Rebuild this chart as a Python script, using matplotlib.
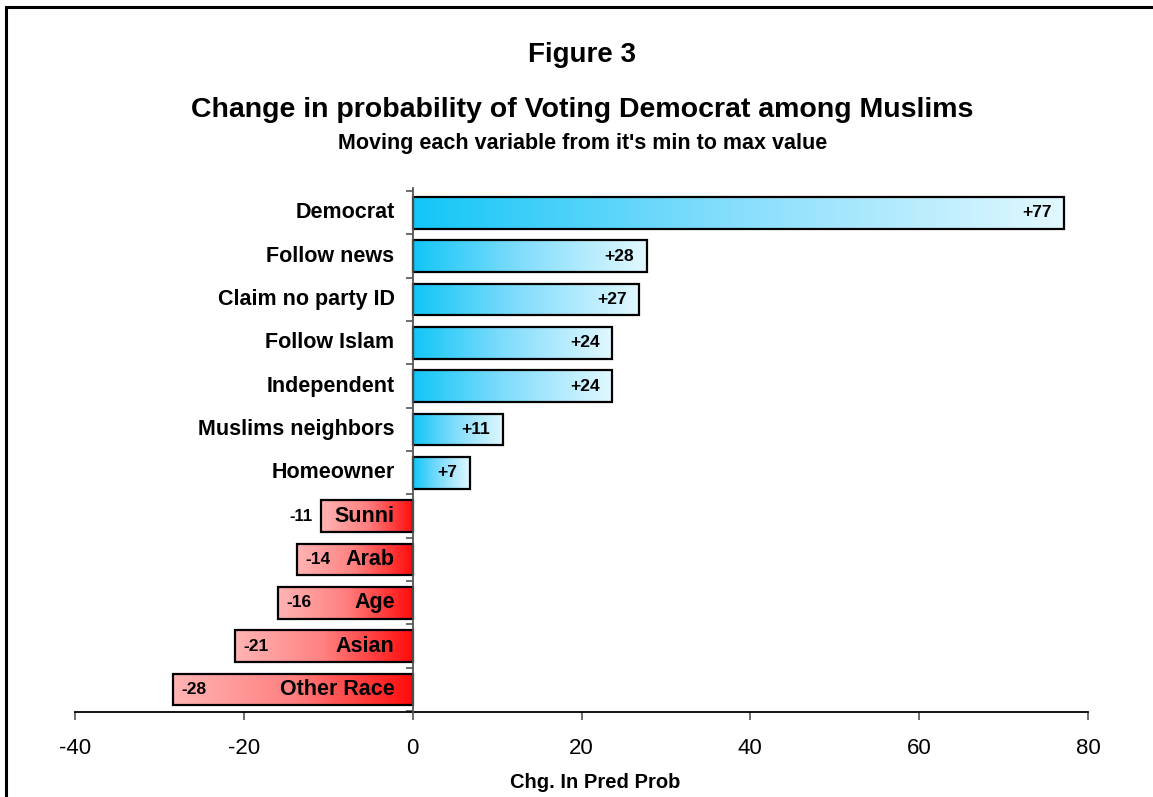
#Horizontal bar chart of change in predicted probability

import matplotlib.pyplot as plt
import numpy as np
from matplotlib.colors import LinearSegmentedColormap
from matplotlib.patches import Rectangle

plt.rcParams['font.family'] = ['Liberation Sans', 'DejaVu Sans']

#data, top to bottom
categories = ['Democrat', 'Follow news', 'Claim no party ID', 'Follow Islam',
              'Independent', 'Muslims neighbors', 'Homeowner', 'Sunni', 'Arab',
              'Age', 'Asian', 'Other Race']
values = [77.2, 27.7, 26.8, 23.6, 23.6, 10.7, 6.8, -10.9, -13.7, -15.9, -21.0, -28.4]
value_labels = ['+77', '+28', '+27', '+24', '+24', '+11', '+7',
                '-11', '-14', '-16', '-21', '-28']
xticks = [-40, -20, 0, 20, 40, 60, 80]

#gradient colormaps
blue_cmap = LinearSegmentedColormap.from_list(
    'blue', [(0.0, '#12c6f7'), (0.45, '#7fdcfc'), (1.0, '#e2f8ff')])
red_cmap = LinearSegmentedColormap.from_list(
    'red', [(0.0, '#ffb4b4'), (0.5, '#ff8080'), (1.0, '#ff0c0c')])
grad = np.linspace(0, 1, 256).reshape(1, -1)

fig = plt.figure(figsize=(11.53, 7.97), dpi=100)
ax = fig.add_axes([75/1153, 1-712/797, (1088-75)/1153, (712-188)/797])

n = len(categories)
ypos = np.arange(n)[::-1]  #Democrat at top
h = 0.73
for y, v, lab, vlab in zip(ypos, values, categories, value_labels):
    x0, x1 = min(0, v), max(0, v)
    cmap = blue_cmap if v > 0 else red_cmap
    ax.imshow(grad, cmap=cmap, aspect='auto', interpolation='bilinear',
              extent=(x0, x1, y-h/2, y+h/2), zorder=2)
    ax.add_patch(Rectangle((x0, y-h/2), x1-x0, h, fill=False,
                           edgecolor='black', linewidth=1.6, zorder=3))
    #category label, right aligned just left of the zero line
    ax.annotate(lab, (0, y), xytext=(-13, 0), textcoords='offset points',
                ha='right', va='center', fontsize=15.5, fontweight='bold',
                zorder=4)
    #value label
    if v > 0:
        ax.annotate(vlab, (v, y), xytext=(-9, 0), textcoords='offset points',
                    ha='right', va='center', fontsize=12.5, fontweight='bold',
                    zorder=4)
    elif abs(v) < 12:
        ax.annotate(vlab, (v, y), xytext=(-6, 0), textcoords='offset points',
                    ha='right', va='center', fontsize=12, fontweight='bold',
                    zorder=4)
    else:
        ax.annotate(vlab, (v, y), xytext=(6, 0), textcoords='offset points',
                    ha='left', va='center', fontsize=12.5, fontweight='bold',
                    zorder=4)

ax.set_xlim(-40, 80)
ax.set_ylim(-0.52, n-0.43)
ax.set_xticks(xticks)
ax.set_xticklabels([str(t) for t in xticks], fontsize=16)
ax.set_yticks(np.arange(n+1)-0.5)
ax.set_yticklabels([])
ax.tick_params(axis='x', direction='out', length=6, width=1.2, pad=13,
               color='#555555')
ax.tick_params(axis='y', direction='out', length=5, width=1.2, color='#555555')

for s in ['top', 'right']:
    ax.spines[s].set_visible(False)
ax.spines['left'].set_position(('data', 0))
ax.spines['left'].set_color('#555555')
ax.spines['left'].set_linewidth(1.3)
ax.spines['left'].set_zorder(5)
ax.spines['bottom'].set_linewidth(1.3)

ax.set_xlabel('Chg. In Pred Prob', fontsize=14.5, fontweight='bold')
ax.xaxis.set_label_coords(0.514, -0.117)

#titles
fig.text(0.505, 1-55/797, 'Figure 3', ha='center', va='center',
         fontsize=20, fontweight='bold')
fig.text(0.505, 1-110/797,
         'Change in probability of Voting Democrat among Muslims',
         ha='center', va='center', fontsize=20.5, fontweight='bold')
fig.text(0.505, 1-143/797, "Moving each variable from it's min to max value",
         ha='center', va='center', fontsize=15.5, fontweight='bold')

#frame round the chart, cut at right and bottom edges
fig.patches.append(Rectangle((6/1153, -0.05), 1.1, 1.05-7/797,
                             transform=fig.transFigure, fill=False,
                             edgecolor='black', linewidth=2.2))

plt.savefig('out.png', dpi=100)
